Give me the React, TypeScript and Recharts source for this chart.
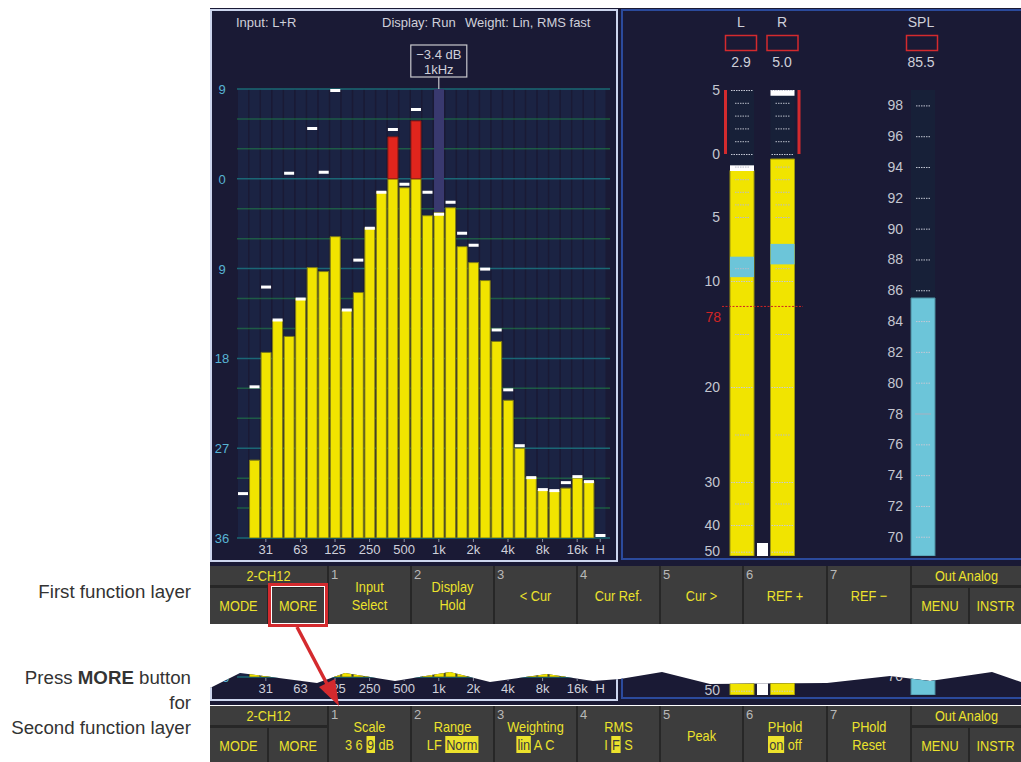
import { Bar, BarChart, CartesianGrid, ComposedChart, ReferenceDot, ReferenceLine, XAxis, YAxis } from 'recharts';

// 1/3-octave RTA readings (dB), null = no bar drawn
const BANDS = ['20', '25', '31.5', '40', '50', '63', '80', '100', '125', '160', '200', '250', '315', '400', '500', '630', '800', '1k', '1.25k', '1.6k', '2k', '2.5k', '3.15k', '4k', '5k', '6.3k', '8k', '10k', '12.5k', '16k', '20k', 'H'];
const BAND_LABELS: Record<string, string> = { '31.5': '31', '63': '63', '125': '125', '250': '250', '500': '500', '1k': '1k', '2k': '2k', '4k': '4k', '8k': '8k', '16k': '16k', H: 'H' };
const LEVELS = [null, -28.2, -17.4, -14.2, -15.8, -12.0, -8.9, -9.3, -5.8, -13.2, -11.4, -4.9, -1.3, 4.2, -0.9, 5.8, -3.7, -3.4, -2.9, -6.8, -8.4, -10.2, -16.3, -22.2, -27.0, -29.9, -31.2, -31.3, -31.0, -30.0, -30.3, null];
const PEAKS = [-31.4, -20.7, -10.7, -14.0, 0.7, -11.9, 5.2, 0.8, 9.0, -13.0, -8.0, -4.8, -1.2, 5.1, -0.4, 7.1, -1.2, -3.4, -2.2, -5.3, -6.5, -8.9, -15.0, -21.0, -26.6, -29.8, -31.0, -31.1, -30.3, -29.7, -30.2, -35.6];
const CURSOR_BAND = '1k';
const CURSOR_TEXT = ['\u22123.4 dB', '1kHz'];
const DB_TICKS = [-36, -27, -18, -9, 0, 9];
const DB_MINOR = [-33, -30, -24, -21, -15, -12, -6, -3, 3, 6];

// L / R level meters
const CHANNELS = ['L', 'R'];
const CHANNEL_READOUT = ['2.9', '5.0'];
const CHANNEL_LEVEL = [-1.3, -0.4];
const CHANNEL_PEAK = [-0.9, 5.0];
const CHANNEL_RMS_LOW = [-9.7, -8.7];
const CHANNEL_RMS_HIGH = [-8.1, -7.1];
const METER_DB = [5, 0, -5, -10, -20, -30, -40, -50];
const METER_POS = [466, 402, 339, 275, 169, 74, 31, 4.3];
const METER_TOP = 466;
const METER_MAJOR = [5, 0, -10, -20, -30, -40, -50];
const METER_MINOR = [4, 3, 2, 1, -1, -2, -3, -4, -5, -9, -15, -25, -35];
const METER_REF_DB = -12.4;
const METER_REF_LABEL = '78';

// SPL meter
const SPL_READOUT = '85.5';
const SPL_VALUE = 85.5;
const SPL_MIN = 68.75;
const SPL_MAX = 99;
const SPL_TICKS = [70, 72, 74, 76, 78, 80, 82, 84, 86, 88, 90, 92, 94, 96, 98];
const SPL_REF = 78;

// softkey layers
const FIRST_LAYER = [['Input', 'Select'], ['Display', 'Hold'], ['< Cur'], ['Cur Ref.'], ['Cur >'], ['REF +'], ['REF \u2212']];
const SECOND_LAYER = [['Scale', '3 6 [9] dB'], ['Range', 'LF [Norm]'], ['Weighting', '[lin] A C'], ['RMS', 'I [F] S'], ['Peak'], ['PHold', '[on] off'], ['PHold', 'Reset']];
const KEY_EDGES = [328, 411, 494, 577, 660, 743, 827, 911];

const SANS = "'Liberation Sans', Arial, sans-serif";
const NAVY = '#1a1a35';
const SCREEN_TEXT = '#cfd0da';
const BAR_YELLOW = '#f1e400';
const BAR_RED = '#e1251d';
const METER_CYAN = '#6cc5d9';
const KEY_YELLOW = '#ece22c';
const ALARM_RED = '#d42a2e';

// torn edge of the screen strip between the two key rows (strip-local px)
const STRIP_EDGE = [[0, 541], [30, 526], [107, 536], [135, 526], [185, 534], [240, 525], [280, 535], [337, 527], [383, 534], [410, 532], [452, 525], [500, 537], [617, 536], [680, 529], [720, 534], [782, 525], [811, 535], [811, 559], [0, 559]];

function pos(db: number): number {
  for (let i = 0; i < METER_DB.length - 1; i++) {
    const a = METER_DB[i];
    const b = METER_DB[i + 1];
    if (db <= a && db >= b) {
      const t = (db - b) / (a - b);
      return METER_POS[i + 1] + t * (METER_POS[i] - METER_POS[i + 1]);
    }
  }
  return db > METER_DB[0] ? METER_POS[0] : METER_POS[METER_POS.length - 1];
}

const rtaData = BANDS.map((band, i) => ({ band, level: LEVELS[i], peak: PEAKS[i] }));
const meterData = CHANNELS.map((ch, i) => ({
  ch,
  level: CHANNEL_LEVEL[i],
  peak: CHANNEL_PEAK[i],
  rmsLow: CHANNEL_RMS_LOW[i],
  rmsHigh: CHANNEL_RMS_HIGH[i],
}));
const splData = [{ ch: 'SPL', value: SPL_VALUE }];

function BandTick(props: any) {
  const { x, y, payload } = props;
  const label = BAND_LABELS[payload.value];
  if (!label) return <g />;
  return (
    <g>
      <line x1={x} x2={x} y1={y + 1} y2={y + 4} stroke="#8a90a4" />
      <text x={x} y={y + 16} textAnchor="middle" fontFamily={SANS} fontSize={13} fill={SCREEN_TEXT}>
        {label}
      </text>
    </g>
  );
}

function DbTick(props: any) {
  const { x, y, payload, strip } = props;
  if (strip && payload.value !== -36) return <g />;
  return (
    <text x={x - 15} y={y + 5} textAnchor="middle" fontFamily={SANS} fontSize={13} fill="#58b4d4">
      {Math.abs(payload.value)}
    </text>
  );
}

function CursorBox(props: any) {
  const { cx, cy } = props;
  return (
    <g>
      <line x1={cx} x2={cx} y1={cy - 12} y2={cy} stroke="#c8c8cc" strokeWidth={1.2} />
      <rect x={cx - 28} y={cy - 44} width={56} height={32} fill={NAVY} stroke="#c8c8cc" strokeWidth={1.2} />
      <text x={cx} y={cy - 30.5} textAnchor="middle" fontFamily={SANS} fontSize={13} fill={SCREEN_TEXT}>
        {CURSOR_TEXT[0]}
      </text>
      <text x={cx} y={cy - 15.5} textAnchor="middle" fontFamily={SANS} fontSize={13} fill={SCREEN_TEXT}>
        {CURSOR_TEXT[1]}
      </text>
    </g>
  );
}

function RtaChart({ strip }: { strip: boolean }) {
  return (
    <ComposedChart width={408} height={554} data={rtaData} margin={{ top: 81, right: 8, bottom: 4, left: 5 }} barSize={10} barGap={-10}>
      <CartesianGrid vertical={false} horizontalValues={DB_MINOR} stroke="#1d5c3a" strokeWidth={1.5} />
      <CartesianGrid vertical={false} horizontalValues={DB_TICKS} stroke="#1a6a72" strokeWidth={1.5} />
      <XAxis dataKey="band" interval={0} tickLine={false} axisLine={false} tickSize={0} tickMargin={0} height={20} padding={{ left: 0, right: 4 }} tick={<BandTick />} />
      <YAxis domain={[-36, 9]} ticks={DB_TICKS} allowDataOverflow width={22} tickLine={false} axisLine={false} tickSize={0} tickMargin={0} tick={<DbTick strip={strip} />} />
      <Bar dataKey={() => [-36, 9]} fill="rgb(40,90,140)" fillOpacity={0.16} isAnimationActive={false} />
      <Bar dataKey={(d: any) => (d.band === CURSOR_BAND ? [d.level, 9] : null)} fill="#39396f" isAnimationActive={false} />
      <Bar dataKey={(d: any) => (d.level == null ? null : [-36, Math.min(d.level, 0)])} fill={BAR_YELLOW} stroke="#7c7a18" strokeWidth={1} isAnimationActive={false} />
      <Bar dataKey={(d: any) => (d.level != null && d.level > 0 ? [0, d.level] : null)} fill={BAR_RED} stroke="#8a1a14" strokeWidth={1} isAnimationActive={false} />
      <Bar dataKey={(d: any) => [d.peak - 0.3, d.peak]} fill="#ffffff" isAnimationActive={false} />
      {!strip && <ReferenceDot x={CURSOR_BAND} y={9} r={0} shape={CursorBox} />}
    </ComposedChart>
  );
}

function dotTick(inset: number, color: string, dash: string) {
  return (props: any) => (
    <line x1={props.x + inset} x2={props.x + props.width - inset} y1={props.y + 0.5} y2={props.y + 0.5} stroke={color} strokeWidth={1} strokeDasharray={dash} />
  );
}

function OverShape(props: any) {
  const { x, y, width, height, payload } = props;
  const left = payload.ch === 'L' ? x - 6 : x + width + 3;
  return <rect x={left} y={y} width={3} height={height} fill={ALARM_RED} />;
}

function MeterTick(props: any) {
  const { x, y, index, strip } = props;
  if (strip && METER_DB[index] !== -50) return <g />;
  return (
    <text x={x - 2} y={y + 5} textAnchor="end" fontFamily={SANS} fontSize={14} fill="#c4c6d0">
      {Math.abs(METER_DB[index])}
    </text>
  );
}

function RefLabel(props: any) {
  const vb = props.viewBox;
  return (
    <text x={vb.x - 1} y={vb.y + 16} textAnchor="end" fontFamily={SANS} fontSize={14} fill="#d02424">
      {METER_REF_LABEL}
    </text>
  );
}

function ChannelMeters({ strip }: { strip: boolean }) {
  return (
    <BarChart width={106} height={480} data={meterData} margin={{ top: 10, right: 3, bottom: 4, left: 2 }} barSize={24} barGap={-24}>
      <XAxis dataKey="ch" hide />
      <YAxis domain={[0, METER_TOP]} ticks={METER_DB.map(pos)} allowDataOverflow width={20} tickLine={false} axisLine={false} tickSize={0} tickMargin={0} tick={<MeterTick strip={strip} />} />
      <Bar dataKey={() => [0, METER_TOP]} fill="#172038" isAnimationActive={false} />
      <Bar dataKey={(d: any) => [0, pos(d.level)]} fill={BAR_YELLOW} stroke="#9a9410" strokeWidth={1} isAnimationActive={false} />
      <Bar dataKey={(d: any) => [pos(d.rmsLow), pos(d.rmsHigh)]} fill={METER_CYAN} isAnimationActive={false} />
      <Bar dataKey={(d: any) => [pos(d.peak - 0.45), pos(d.peak)]} fill="#ffffff" isAnimationActive={false} />
      {METER_MAJOR.map((t) => (
        <Bar key={`M${t}`} dataKey={() => [pos(t) - 1, pos(t)]} shape={dotTick(1, '#c4c8d4', '1.5 1')} isAnimationActive={false} />
      ))}
      {METER_MINOR.map((t) => (
        <Bar key={`m${t}`} dataKey={() => [pos(t) - 1, pos(t)]} shape={dotTick(5, '#b8bcc8', '1.5 1')} isAnimationActive={false} />
      ))}
      <Bar dataKey={() => [pos(0), pos(5)]} shape={OverShape} isAnimationActive={false} />
      <ReferenceLine y={pos(METER_REF_DB)} stroke="#d02424" strokeWidth={1} strokeDasharray="2 1.5" label={strip ? undefined : RefLabel} />
    </BarChart>
  );
}

function SplTick(props: any) {
  const { x, y, payload, strip } = props;
  if (strip && payload.value !== 70) return <g />;
  return (
    <text x={x - 7} y={y + 5} textAnchor="end" fontFamily={SANS} fontSize={14} fill="#c4c6d0">
      {payload.value}
    </text>
  );
}

function SplMeter({ strip }: { strip: boolean }) {
  return (
    <BarChart width={60} height={480} data={splData} margin={{ top: 10, right: 4, bottom: 4, left: 2 }} barSize={24} barGap={-24}>
      <XAxis dataKey="ch" hide />
      <YAxis domain={[SPL_MIN, SPL_MAX]} ticks={SPL_TICKS} allowDataOverflow width={28} tickLine={false} axisLine={false} tickSize={0} tickMargin={0} tick={<SplTick strip={strip} />} />
      <Bar dataKey={() => [SPL_MIN, SPL_MAX]} fill="#172038" isAnimationActive={false} />
      <Bar dataKey={(d: any) => [SPL_MIN, d.value]} fill={METER_CYAN} stroke="#4a8a9c" strokeWidth={1} isAnimationActive={false} />
      {SPL_TICKS.map((t) => (
        <Bar
          key={t}
          dataKey={() => [t - 0.05, t]}
          shape={t === SPL_REF ? dotTick(4, '#a8b0c0', '0') : dotTick(5, '#c4c8d4', '1.5 1')}
          isAnimationActive={false}
        />
      ))}
    </BarChart>
  );
}

function Screen({ strip = false }: { strip?: boolean }) {
  const txt = { fontFamily: SANS, fill: SCREEN_TEXT } as const;
  return (
    <div style={{ position: 'relative', width: 811, height: 558, background: NAVY }}>
      <div style={{ position: 'absolute', left: 0, top: 0 }}>
        <RtaChart strip={strip} />
      </div>
      <div style={{ position: 'absolute', left: 0, top: 1, width: 408, height: 553, border: '2px solid #cdd6ee', boxSizing: 'border-box' }} />
      <div style={{ position: 'absolute', left: 411, top: 1, width: 420, height: 551, border: '2px solid #2b4a9c', boxSizing: 'border-box' }} />
      {!strip && (
        <svg width={811} height={558} style={{ position: 'absolute', left: 0, top: 0 }}>
          <text x={26} y={18.5} fontSize={13} {...txt}>Input: L+R</text>
          <text x={172} y={18.5} fontSize={13} {...txt}>Display: Run</text>
          <text x={255} y={18.5} fontSize={13} {...txt}>Weight: Lin, RMS fast</text>
          {CHANNELS.map((ch, i) => (
            <g key={ch}>
              <text x={531 + i * 41} y={19} fontSize={14} textAnchor="middle" {...txt}>{ch}</text>
              <rect x={515.5 + i * 41.5} y={27.5} width={31} height={15} fill="none" stroke={ALARM_RED} strokeWidth={1.5} />
              <text x={531 + i * 41} y={59} fontSize={14} textAnchor="middle" {...txt}>{CHANNEL_READOUT[i]}</text>
            </g>
          ))}
          <text x={711} y={19} fontSize={14} textAnchor="middle" {...txt}>SPL</text>
          <rect x={696.5} y={27.5} width={31} height={15} fill="none" stroke={ALARM_RED} strokeWidth={1.5} />
          <text x={711} y={59} fontSize={14} textAnchor="middle" {...txt}>{SPL_READOUT}</text>
        </svg>
      )}
      <div style={{ position: 'absolute', left: 490, top: 72 }}>
        <ChannelMeters strip={strip} />
      </div>
      <div style={{ position: 'absolute', left: 670, top: 72 }}>
        <SplMeter strip={strip} />
      </div>
      <div style={{ position: 'absolute', left: 547, top: 535, width: 11, height: 13, background: '#ffffff' }} />
    </div>
  );
}

function KeyText({ text }: { text: string }) {
  const parts = text.split(/(\[[^\]]*\])/).filter(Boolean);
  return (
    <>
      {parts.map((p, i) =>
        p.startsWith('[') ? (
          <span key={i} style={{ background: KEY_YELLOW, color: '#3d3d3d', padding: '0 1px' }}>
            {p.slice(1, -1)}
          </span>
        ) : (
          <span key={i}>{p}</span>
        ),
      )}
    </>
  );
}

function Key({ left, top, width, height, lines, num, lineY }: { left: number; top: number; width: number; height: number; lines: string[]; num?: string; lineY: number[] }) {
  return (
    <div style={{ position: 'absolute', left, top, width, height, background: '#3d3d3d' }}>
      {num && (
        <div style={{ position: 'absolute', left: 2, top: 1, fontFamily: SANS, fontSize: 13, color: '#b8b8b8', lineHeight: '15px' }}>{num}</div>
      )}
      {lines.map((line, i) => (
        <div
          key={i}
          style={{
            position: 'absolute',
            left: 0,
            width,
            top: lineY[i] - top - 9,
            height: 18,
            lineHeight: '18px',
            textAlign: 'center',
            fontFamily: SANS,
            fontSize: 15,
            color: KEY_YELLOW,
            whiteSpace: 'nowrap',
            transform: 'scaleX(0.85)',
            transformOrigin: 'center',
          }}
        >
          <KeyText text={line} />
        </div>
      ))}
    </div>
  );
}

function FunctionRow({ top, layer }: { top: number; layer: string[][] }) {
  return (
    <div style={{ position: 'absolute', left: 210, top, width: 811, height: 58, background: '#272727' }}>
      <Key left={0} top={0} width={117} height={19} lines={['2-CH12']} lineY={[10]} />
      <Key left={0} top={22} width={57} height={36} lines={['MODE']} lineY={[40]} />
      <Key left={59} top={22} width={58} height={36} lines={['MORE']} lineY={[40]} />
      {layer.map((lines, i) => (
        <Key
          key={i}
          left={KEY_EDGES[i] - 210 + 1}
          top={0}
          width={KEY_EDGES[i + 1] - KEY_EDGES[i] - 2}
          height={58}
          num={String(i + 1)}
          lines={lines}
          lineY={lines.length === 2 ? [21, 39] : [30]}
        />
      ))}
      <Key left={702} top={0} width={109} height={19} lines={['Out Analog']} lineY={[10]} />
      <Key left={702} top={22} width={56} height={36} lines={['MENU']} lineY={[40]} />
      <Key left={760} top={22} width={51} height={36} lines={['INSTR']} lineY={[40]} />
    </div>
  );
}

export default function App() {
  const note = { position: 'absolute', left: 0, width: 191, textAlign: 'right', fontFamily: SANS, fontSize: 18.7, color: '#333333', lineHeight: '24px' } as const;
  return (
    <div style={{ position: 'absolute', left: 0, top: 0, width: 1021, height: 762, background: '#ffffff', overflow: 'hidden' }}>
      <div style={{ ...note, top: 580 }}>First function layer</div>
      <div style={{ ...note, top: 666 }}>
        Press <b>MORE</b> button
      </div>
      <div style={{ ...note, top: 691 }}>for</div>
      <div style={{ ...note, top: 716 }}>Second function layer</div>

      <div style={{ position: 'absolute', left: 210, top: 8 }}>
        <Screen />
      </div>
      <FunctionRow top={566} layer={FIRST_LAYER} />

      <div
        style={{
          position: 'absolute',
          left: 210,
          top: 147,
          width: 811,
          height: 559,
          clipPath: `polygon(${STRIP_EDGE.map(([x, y]) => `${x}px ${y}px`).join(', ')})`,
        }}
      >
        <Screen strip />
      </div>
      <FunctionRow top={706} layer={SECOND_LAYER} />

      <div style={{ position: 'absolute', left: 268, top: 583, width: 60, height: 44, border: `3px solid ${ALARM_RED}`, boxSizing: 'border-box' }}>
        <div style={{ position: 'absolute', inset: 0, border: '1px solid #ffffff' }} />
      </div>
      <svg width={1021} height={762} style={{ position: 'absolute', left: 0, top: 0, pointerEvents: 'none' }}>
        <line x1={297} y1={627} x2={327} y2={684} stroke={ALARM_RED} strokeWidth={3.5} />
        <polygon points="339,706 319,687 335,679" fill={ALARM_RED} />
      </svg>
    </div>
  );
}
